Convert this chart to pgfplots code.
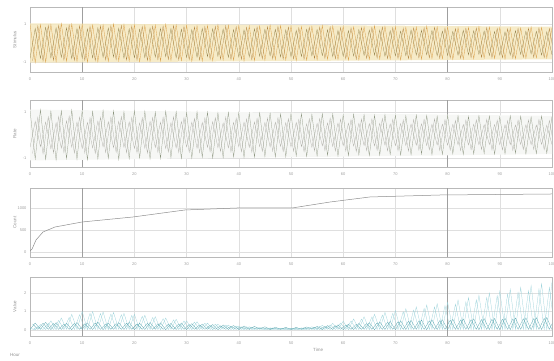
\documentclass[border=0pt]{standalone}
\usepackage{pgfplots}
\pgfplotsset{compat=1.18}
\usepackage{pgfplotstable}
\usepackage{fontspec}
\setmainfont{Liberation Sans}

\definecolor{cOrange}{HTML}{D9A04C}
\definecolor{cOlive}{HTML}{8F7D45}
\definecolor{cBand}{HTML}{F5E8BE}
\definecolor{cGreyA}{HTML}{8C957F}
\definecolor{cGreyB}{HTML}{ABABA3}
\definecolor{cLine}{HTML}{8E8E8E}
\definecolor{cTeal}{HTML}{5AA6B0}
\definecolor{cTealL}{HTML}{96D0D8}

\pgfplotstableread{
x xh ya yb yc
0 0.5 1.00 -0.82 -0.93
1 1.5 -1.03 0.77 0.90
2 2.5 0.97 -0.81 -0.95
3 3.5 -1.01 0.83 0.92
4 4.5 0.98 -0.78 -0.91
5 5.5 -0.99 0.81 0.93
6 6.5 1.03 -0.76 -0.90
7 7.5 -0.96 0.80 0.95
8 8.5 1.00 -0.82 -0.92
9 9.5 -0.97 0.77 0.91
10 10.5 0.98 -0.80 -0.91
11 11.5 -1.01 0.75 0.88
12 12.5 0.95 -0.79 -0.93
13 13.5 -0.99 0.81 0.90
14 14.5 0.96 -0.76 -0.89
15 15.5 -0.97 0.79 0.91
16 16.5 1.01 -0.74 -0.88
17 17.5 -0.94 0.78 0.93
18 18.5 0.98 -0.80 -0.90
19 19.5 -0.95 0.75 0.89
20 20.5 0.96 -0.78 -0.90
21 21.5 -0.99 0.73 0.87
22 22.5 0.93 -0.77 -0.92
23 23.5 -0.97 0.79 0.89
24 24.5 0.94 -0.74 -0.88
25 25.5 -0.95 0.77 0.90
26 26.5 0.99 -0.72 -0.87
27 27.5 -0.92 0.76 0.92
28 28.5 0.96 -0.78 -0.89
29 29.5 -0.93 0.73 0.88
30 30.5 0.94 -0.76 -0.88
31 31.5 -0.97 0.71 0.85
32 32.5 0.91 -0.75 -0.90
33 33.5 -0.95 0.77 0.87
34 34.5 0.92 -0.72 -0.86
35 35.5 -0.93 0.75 0.88
36 36.5 0.97 -0.70 -0.85
37 37.5 -0.90 0.74 0.90
38 38.5 0.94 -0.76 -0.87
39 39.5 -0.91 0.71 0.86
40 40.5 0.92 -0.74 -0.86
41 41.5 -0.95 0.69 0.83
42 42.5 0.89 -0.73 -0.88
43 43.5 -0.93 0.75 0.85
44 44.5 0.90 -0.70 -0.84
45 45.5 -0.91 0.73 0.86
46 46.5 0.95 -0.68 -0.83
47 47.5 -0.88 0.72 0.88
48 48.5 0.92 -0.74 -0.85
49 49.5 -0.89 0.69 0.84
50 50.5 0.90 -0.72 -0.84
51 51.5 -0.93 0.67 0.81
52 52.5 0.87 -0.71 -0.86
53 53.5 -0.91 0.73 0.83
54 54.5 0.88 -0.68 -0.82
55 55.5 -0.89 0.71 0.84
56 56.5 0.93 -0.66 -0.81
57 57.5 -0.86 0.70 0.86
58 58.5 0.90 -0.72 -0.83
59 59.5 -0.87 0.67 0.82
60 60.5 0.88 -0.70 -0.83
61 61.5 -0.91 0.65 0.80
62 62.5 0.85 -0.69 -0.85
63 63.5 -0.89 0.71 0.82
64 64.5 0.86 -0.66 -0.81
65 65.5 -0.87 0.69 0.83
66 66.5 0.91 -0.64 -0.80
67 67.5 -0.84 0.68 0.85
68 68.5 0.88 -0.70 -0.82
69 69.5 -0.85 0.65 0.81
70 70.5 0.86 -0.68 -0.81
71 71.5 -0.89 0.63 0.78
72 72.5 0.83 -0.67 -0.83
73 73.5 -0.87 0.69 0.80
74 74.5 0.84 -0.64 -0.79
75 75.5 -0.85 0.67 0.81
76 76.5 0.89 -0.62 -0.78
77 77.5 -0.82 0.66 0.83
78 78.5 0.86 -0.68 -0.80
79 79.5 -0.83 0.63 0.79
80 80.5 0.84 -0.66 -0.79
81 81.5 -0.87 0.61 0.76
82 82.5 0.81 -0.65 -0.81
83 83.5 -0.85 0.67 0.78
84 84.5 0.82 -0.62 -0.77
85 85.5 -0.83 0.65 0.79
86 86.5 0.87 -0.60 -0.76
87 87.5 -0.80 0.64 0.81
88 88.5 0.84 -0.66 -0.78
89 89.5 -0.81 0.61 0.77
90 90.5 0.82 -0.64 -0.78
91 91.5 -0.85 0.59 0.75
92 92.5 0.79 -0.63 -0.80
93 93.5 -0.83 0.65 0.77
94 94.5 0.80 -0.60 -0.76
95 95.5 -0.81 0.63 0.78
96 96.5 0.85 -0.58 -0.75
97 97.5 -0.78 0.62 0.80
98 98.5 0.82 -0.64 -0.77
99 99.5 -0.79 0.59 0.76
100 100.5 0.80 -0.62 -0.76
}\tA

\pgfplotstableread{
x xh ya yb yc
0 0.5 1.10 -0.55 -0.81
1 1.5 -1.06 0.60 0.78
2 2.5 1.12 -0.52 -0.83
3 3.5 -1.08 0.57 0.80
4 4.5 1.05 -0.61 -0.79
5 5.5 -1.11 0.54 0.81
6 6.5 1.07 -0.58 -0.78
7 7.5 -1.04 0.62 0.83
8 8.5 1.10 -0.53 -0.80
9 9.5 -1.07 0.56 0.79
10 10.5 1.08 -0.60 -0.79
11 11.5 -1.10 0.55 0.76
12 12.5 1.04 -0.57 -0.81
13 13.5 -1.06 0.61 0.78
14 14.5 1.09 -0.52 -0.77
15 15.5 -1.03 0.58 0.79
16 16.5 1.06 -0.56 -0.76
17 17.5 -1.08 0.60 0.81
18 18.5 1.03 -0.54 -0.78
19 19.5 -1.05 0.57 0.77
20 20.5 1.07 -0.59 -0.78
21 21.5 -1.02 0.53 0.75
22 22.5 1.05 -0.58 -0.80
23 23.5 -1.06 0.60 0.77
24 24.5 1.01 -0.55 -0.76
25 25.5 -1.04 0.56 0.78
26 26.5 1.05 -0.59 -0.75
27 27.5 -1.00 0.54 0.80
28 28.5 1.03 -0.57 -0.77
29 29.5 -1.04 0.59 0.76
30 30.5 1.00 -0.53 -0.76
31 31.5 -1.02 0.56 0.73
32 32.5 1.03 -0.58 -0.78
33 33.5 -0.98 0.55 0.75
34 34.5 1.01 -0.54 -0.74
35 35.5 -1.02 0.58 0.76
36 36.5 0.98 -0.56 -0.73
37 37.5 -1.00 0.53 0.78
38 38.5 1.00 -0.57 -0.75
39 39.5 -0.97 0.55 0.74
40 40.5 0.99 -0.52 -0.74
41 41.5 -0.99 0.56 0.71
42 42.5 0.96 -0.54 -0.76
43 43.5 -0.98 0.57 0.73
44 44.5 0.98 -0.51 -0.72
45 45.5 -0.95 0.55 0.74
46 46.5 0.96 -0.53 -0.71
47 47.5 -0.97 0.56 0.76
48 48.5 0.93 -0.50 -0.73
49 49.5 -0.96 0.54 0.72
50 50.5 0.95 -0.52 -0.72
51 51.5 -0.92 0.55 0.69
52 52.5 0.94 -0.51 -0.74
53 53.5 -0.95 0.49 0.71
54 54.5 0.91 -0.54 -0.70
55 55.5 -0.93 0.51 0.72
56 56.5 0.94 -0.48 -0.69
57 57.5 -0.90 0.53 0.74
58 58.5 0.92 -0.50 -0.71
59 59.5 -0.93 0.52 0.70
60 60.5 0.89 -0.47 -0.71
61 61.5 -0.91 0.52 0.68
62 62.5 0.92 -0.49 -0.73
63 63.5 -0.88 0.51 0.70
64 64.5 0.90 -0.46 -0.69
65 65.5 -0.91 0.50 0.71
66 66.5 0.87 -0.48 -0.68
67 67.5 -0.89 0.51 0.73
68 68.5 0.90 -0.45 -0.70
69 69.5 -0.86 0.49 0.69
70 70.5 0.88 -0.47 -0.69
71 71.5 -0.89 0.50 0.66
72 72.5 0.85 -0.46 -0.71
73 73.5 -0.87 0.48 0.68
74 74.5 0.88 -0.45 -0.67
75 75.5 -0.84 0.49 0.69
76 76.5 0.86 -0.46 -0.66
77 77.5 -0.87 0.47 0.71
78 78.5 0.83 -0.44 -0.68
79 79.5 -0.86 0.48 0.67
80 80.5 0.87 -0.45 -0.67
81 81.5 -0.83 0.47 0.64
82 82.5 0.85 -0.43 -0.69
83 83.5 -0.86 0.46 0.66
84 84.5 0.82 -0.44 -0.65
85 85.5 -0.84 0.47 0.67
86 86.5 0.86 -0.43 -0.64
87 87.5 -0.82 0.45 0.69
88 88.5 0.84 -0.42 -0.66
89 89.5 -0.85 0.46 0.65
90 90.5 0.81 -0.43 -0.66
91 91.5 -0.83 0.45 0.63
92 92.5 0.85 -0.42 -0.68
93 93.5 -0.81 0.44 0.65
94 94.5 0.83 -0.41 -0.64
95 95.5 -0.84 0.45 0.66
96 96.5 0.80 -0.42 -0.63
97 97.5 -0.82 0.44 0.68
98 98.5 0.84 -0.41 -0.65
99 99.5 -0.80 0.43 0.64
100 100.5 0.82 -0.42 -0.64
}\tB

\pgfplotstableread{
x y
0 23
0.4 68
1.15 273
2.5 455
4.8 568
10 682
19.7 795
29.7 955
39.7 1000
50.2 1000
57.5 1136
65.1 1250
78.5 1295
100 1318
}\tC

\pgfplotstableread{
x xh ya yb yc yd
0 0.5 0.10 0.03 0.33 0.03
1 1.5 0.02 0.38 0.04 0.18
2 2.5 0.30 0.04 0.37 0.03
3 3.5 0.03 0.42 0.04 0.36
4 4.5 0.50 0.02 0.35 0.03
5 5.5 0.02 0.40 0.04 0.52
6 6.5 0.65 0.03 0.32 0.03
7 7.5 0.04 0.37 0.04 0.68
8 8.5 0.85 0.02 0.36 0.03
9 9.5 0.03 0.41 0.04 0.83
10 10.5 1.00 0.04 0.34 0.03
11 11.5 0.02 0.39 0.04 0.90
12 12.5 1.00 0.03 0.38 0.03
13 13.5 0.03 0.43 0.04 0.89
14 14.5 0.98 0.02 0.33 0.03
15 15.5 0.02 0.38 0.04 0.87
16 16.5 0.95 0.04 0.35 0.03
17 17.5 0.04 0.40 0.04 0.83
18 18.5 0.90 0.03 0.37 0.03
19 19.5 0.03 0.42 0.04 0.79
20 20.5 0.85 0.02 0.32 0.03
21 21.5 0.02 0.37 0.04 0.74
22 22.5 0.80 0.03 0.36 0.03
23 23.5 0.03 0.41 0.04 0.68
24 24.5 0.72 0.04 0.34 0.03
25 25.5 0.02 0.39 0.04 0.62
26 26.5 0.65 0.02 0.31 0.03
27 27.5 0.04 0.36 0.04 0.55
28 28.5 0.58 0.03 0.33 0.03
29 29.5 0.03 0.38 0.04 0.49
30 30.5 0.50 0.02 0.30 0.03
31 31.5 0.02 0.35 0.04 0.43
32 32.5 0.45 0.03 0.28 0.03
33 33.5 0.03 0.33 0.04 0.37
34 34.5 0.38 0.04 0.25 0.03
35 35.5 0.02 0.30 0.04 0.32
36 36.5 0.32 0.02 0.23 0.03
37 37.5 0.04 0.28 0.04 0.27
38 38.5 0.27 0.03 0.20 0.03
39 39.5 0.03 0.25 0.04 0.22
40 40.5 0.22 0.02 0.17 0.03
41 41.5 0.02 0.22 0.04 0.18
42 42.5 0.18 0.03 0.15 0.03
43 43.5 0.03 0.20 0.04 0.14
44 44.5 0.14 0.04 0.13 0.03
45 45.5 0.02 0.18 0.04 0.12
46 46.5 0.12 0.02 0.11 0.03
47 47.5 0.04 0.16 0.04 0.10
48 48.5 0.10 0.03 0.10 0.03
49 49.5 0.03 0.15 0.04 0.09
50 50.5 0.10 0.02 0.10 0.03
51 51.5 0.02 0.15 0.04 0.10
52 52.5 0.12 0.03 0.12 0.03
53 53.5 0.03 0.17 0.04 0.14
54 54.5 0.18 0.04 0.15 0.03
55 55.5 0.02 0.20 0.04 0.20
56 56.5 0.26 0.02 0.19 0.03
57 57.5 0.04 0.24 0.04 0.28
58 58.5 0.36 0.03 0.23 0.03
59 59.5 0.03 0.28 0.04 0.38
60 60.5 0.48 0.02 0.27 0.03
61 61.5 0.02 0.32 0.04 0.49
62 62.5 0.60 0.03 0.31 0.03
63 63.5 0.03 0.36 0.04 0.59
64 64.5 0.72 0.04 0.35 0.03
65 65.5 0.02 0.40 0.04 0.71
66 66.5 0.85 0.02 0.39 0.03
67 67.5 0.04 0.44 0.04 0.81
68 68.5 0.95 0.03 0.42 0.03
69 69.5 0.03 0.47 0.04 0.90
70 70.5 1.05 0.02 0.45 0.03
71 71.5 0.02 0.50 0.04 0.99
72 72.5 1.15 0.03 0.47 0.03
73 73.5 0.03 0.52 0.04 1.08
74 74.5 1.25 0.04 0.49 0.03
75 75.5 0.02 0.54 0.04 1.17
76 76.5 1.35 0.02 0.50 0.03
77 77.5 0.04 0.55 0.04 1.25
78 78.5 1.42 0.03 0.51 0.03
79 79.5 0.03 0.56 0.04 1.31
80 80.5 1.50 0.02 0.53 0.03
81 81.5 0.02 0.58 0.04 1.40
82 82.5 1.62 0.03 0.55 0.03
83 83.5 0.03 0.60 0.04 1.52
84 84.5 1.75 0.04 0.56 0.03
85 85.5 0.02 0.61 0.04 1.63
86 86.5 1.88 0.02 0.57 0.03
87 87.5 0.04 0.62 0.04 1.75
88 88.5 2.00 0.03 0.58 0.03
89 89.5 0.03 0.63 0.04 1.85
90 90.5 2.10 0.02 0.59 0.03
91 91.5 0.02 0.64 0.04 1.94
92 92.5 2.20 0.03 0.60 0.03
93 93.5 0.03 0.65 0.04 2.03
94 94.5 2.30 0.04 0.61 0.03
95 95.5 0.02 0.66 0.04 2.12
96 96.5 2.40 0.02 0.62 0.03
97 97.5 0.04 0.67 0.04 2.21
98 98.5 2.50 0.03 0.63 0.03
99 99.5 0.03 0.68 0.04 2.30
100 100.5 2.60 0.02 0.63 0.03
}\tD

\pgfplotsset{
 panel/.style={
  scale only axis, width=522pt, xmin=0, xmax=100,
  anchor=south west,
  xtick={0,10,...,100},
  axis line style={gray!55, line width=0.4pt},
  tick style={draw=none},
  grid=major, major grid style={gray!25, line width=0.3pt},
  ticklabel style={font=\fontsize{4}{5}\selectfont, text=gray!75},
  label style={font=\fontsize{4.5}{5}\selectfont, text=gray!85},
  ylabel style={at={(axis description cs:-0.029,0.5)}, anchor=center},
  xticklabel style={yshift=-2pt},
  extra x ticks={10,80}, extra x tick labels={},
  extra x tick style={grid=major, major grid style={gray!75, line width=0.5pt}, tick style={draw=none}},
  /pgf/number format/assume math mode=true,
  /pgf/number format/1000 sep={},
  clip=true,
 }
}

\begin{document}
\begin{tikzpicture}[x=1pt,y=1pt]
\path[use as bounding box] (0,0) rectangle (554,360);

\begin{axis}[panel, at={(30pt,288pt)}, height=65pt, ymin=-1.53, ymax=1.9, ytick={-1,1}, ylabel={Stimulus}]
\addplot[fill=cBand, draw=none, fill opacity=0.85] coordinates {(0,1.04) (100,0.86) (100,-0.86) (0,-1.04)} -- cycle;
\addplot[cOrange, line width=0.3pt] table[x=x, y=ya] {\tA};
\addplot[cOrange!80!black, line width=0.25pt] table[x=xh, y=yc] {\tA};
\addplot[cOlive, line width=0.25pt] table[x=x, y=yb] {\tA};
\end{axis}

\begin{axis}[panel, at={(30pt,193pt)}, height=67pt, ymin=-1.41, ymax=1.54, ytick={-1,1}, ylabel={Rate}]
\addplot[fill=cGreyA!8, draw=none] coordinates {(0,1.12) (100,0.84) (100,-0.84) (0,-1.12)} -- cycle;
\addplot[cGreyA, line width=0.25pt] table[x=x, y=ya] {\tB};
\addplot[cGreyB, line width=0.25pt] table[x=xh, y=yc] {\tB};
\addplot[cGreyB, line width=0.25pt] table[x=x, y=yb] {\tB};
\end{axis}

\begin{axis}[panel, at={(30pt,103pt)}, height=69pt, ymin=-114, ymax=1454, ytick={0,500,1000}, ylabel={Count}]
\addplot[cLine, line width=0.5pt] table[x=x, y=y] {\tC};
\end{axis}

\begin{axis}[panel, at={(30pt,24pt)}, height=59pt, ymin=-0.32, ymax=2.86, ytick={0,1,2}, ylabel={Value},
  xlabel={Time}, xlabel style={at={(axis description cs:0.552,-0.24)}, anchor=center}]
\addplot[cTealL, line width=0.25pt] table[x=xh, y=yd] {\tD};
\addplot[cTealL, line width=0.25pt] table[x=x, y=ya] {\tD};
\addplot[cTeal, line width=0.25pt] table[x=x, y=yb] {\tD};
\addplot[cTeal, line width=0.25pt] table[x=xh, y=yc] {\tD};
\end{axis}

\node[font=\fontsize{4.5}{5}\selectfont, text=gray!85] at (15,5) {Hour};
\end{tikzpicture}
\end{document}
